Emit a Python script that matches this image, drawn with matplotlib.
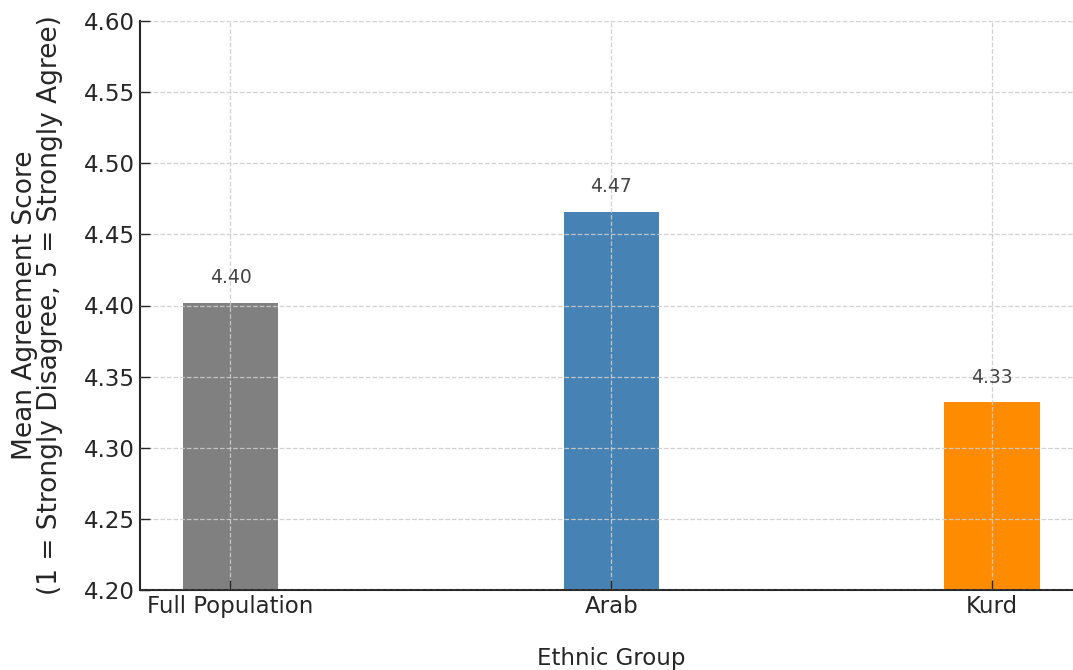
import matplotlib
matplotlib.use("Agg")
import matplotlib.pyplot as plt

groups = ["Full Population", "Arab", "Kurd"]
mean_scores = [4.402, 4.466, 4.332]
bar_colors = ["#808080", "#4682B4", "#FF8C00"]
y_ticks = [4.20, 4.25, 4.30, 4.35, 4.40, 4.45, 4.50, 4.55, 4.60]

plt.rcParams["font.family"] = ["DejaVu Sans"]

fig = plt.figure(figsize=(10.73, 6.70), dpi=100)
ax = fig.add_axes([140 / 1073, 1 - 590 / 670, (1082.5 - 140) / 1073, (590 - 21) / 670])

x = list(range(len(groups)))
ax.bar(x, mean_scores, width=0.25, color=bar_colors, zorder=1)

for xi, v in zip(x, mean_scores):
    ax.text(xi, v + 0.011, f"{v:.2f}", ha="center", va="bottom",
            fontsize=13.5, color="#444444")

ax.set_ylim(4.20, 4.60)
ax.set_xlim(-0.2375, 2.2375)
ax.set_yticks(y_ticks)
ax.set_yticklabels([f"{t:.2f}" for t in y_ticks])
ax.set_xticks(x)
ax.set_xticklabels(groups)

ax.tick_params(axis="both", direction="in", length=7, width=1,
               labelsize=16.5, labelcolor="#262626", color="#262626")
ax.set_xlabel("Ethnic Group", fontsize=16.5, color="#262626", labelpad=21)
ax.set_ylabel("Mean Agreement Score\n(1 = Strongly Disagree, 5 = Strongly Agree)",
              fontsize=19, color="#262626", linespacing=0.95)
ax.yaxis.set_label_coords(-0.082, 0.5)

ax.grid(True, linestyle="--", color="#cccccc", linewidth=0.9, alpha=0.9, zorder=2)
ax.set_axisbelow(False)

for side in ("top", "right"):
    ax.spines[side].set_visible(False)
for side in ("left", "bottom"):
    ax.spines[side].set_color("#262626")
    ax.spines[side].set_linewidth(1.5)

fig.savefig("out.png", dpi=100)
